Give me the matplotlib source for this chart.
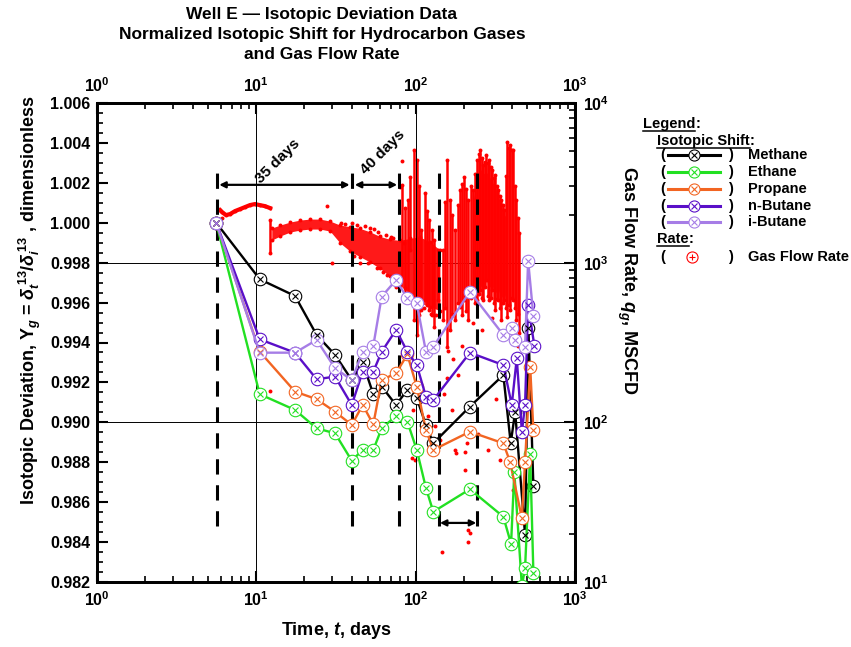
import matplotlib
matplotlib.use('Agg')
import matplotlib.pyplot as plt
import numpy as np
from matplotlib.lines import Line2D
from matplotlib.ticker import FuncFormatter, FormatStrFormatter, MultipleLocator, LogLocator, NullFormatter

# ---- isotopic shift data (time in days, normalized ratio) ----
t_common = [5.6, 10.5, 17.5, 23.9, 31.2, 39.7, 46.5, 54.2, 61.2, 75.3, 88.7, 101.6, 116, 129, 219, 355]

methane_y = [1.0000, 0.99717, 0.99633, 0.99438, 0.99338, 0.99212, 0.99300, 0.99141, 0.99179, 0.99087,
             0.99163, 0.99121, 0.98987, 0.98895, 0.99079, 0.99237]
methane_tail_t = [395, 421, 486, 510, 548]
methane_tail_y = [0.98895, 0.99053, 0.98436, 0.99471, 0.98681]

ethane_y = [1.0000, 0.99141, 0.99062, 0.98970, 0.98945, 0.98808, 0.98862, 0.98862, 0.98970, 0.99032,
            0.99003, 0.98862, 0.98671, 0.98552, 0.98665, 0.98527]
ethane_tail_t = [397, 416, 464, 486, 523, 548]
ethane_tail_y = [0.98391, 0.98750, 0.98180, 0.98270, 0.98840, 0.98247]

propane_y = [1.0000, 0.99354, 0.99154, 0.99116, 0.99053, 0.98987, 0.99087, 0.98990, 0.99212, 0.99246,
             0.99340, 0.99179, 0.98962, 0.98862, 0.98953, 0.98895]
propane_tail_t = [391, 464, 486, 523, 548]
propane_tail_y = [0.98803, 0.98520, 0.98803, 0.99279, 0.98962]

nbutane_y = [1.0000, 0.99416, 0.99349, 0.99216, 0.99229, 0.99087, 0.99254, 0.99254, 0.99354, 0.99463,
             0.99354, 0.99287, 0.99129, 0.99112, 0.99349, 0.99287]
nbutane_tail_t = [401, 431, 464, 486, 508, 556]
nbutane_tail_y = [0.99087, 0.99321, 0.98953, 0.99087, 0.99588, 0.99383]

ibutane_y = [1.0000, 0.99349, 0.99349, 0.99413, 0.99271, 0.99212, 0.99354, 0.99383, 0.99630, 0.99713,
             0.99622, 0.99597, 0.99354, 0.99379, 0.99655, 0.99438]
ibutane_tail_t = [401, 421, 486, 508, 548]
ibutane_tail_y = [0.99471, 0.99413, 0.99379, 0.99810, 0.99533]

series_names = ['Methane', 'Ethane', 'Propane', 'n-Butane', 'i-Butane']
series_colors = ['#000000', '#22e022', '#f26522', '#5a0fc8', '#a67de6']

# ---- gas flow rate data (MSCFD) ----
segA_t = [5.92, 6.09, 6.45, 6.84, 7.35, 7.90, 8.49, 9.12, 9.80, 10.5, 11.3, 12.2]
segA_q = [2135, 2073, 1987, 2015, 2104, 2165, 2229, 2294, 2328, 2294, 2261, 2197]

band_t = [12.5, 14.1, 16.3, 18.8, 21.7, 25.1, 29.0, 33.5, 38.7, 44.7, 51.6, 59.7, 69.0, 79.7, 92.1, 106, 123, 142]
band_hi = [1647, 1720, 1796, 1848, 1875, 1875, 1822, 1720, 1680, 1640, 1560, 1460, 1400, 1380, 1420, 1450, 1350, 1200]
band_lo = [1385, 1468, 1555, 1600, 1623, 1623, 1577, 1330, 1180, 1090, 1010, 920, 820, 720, 640, 560, 530, 500]

dense_t = [229, 242, 254, 265, 277, 289, 302, 315, 329, 344, 359, 375]
dense_hi = [2400, 3300, 3900, 3600, 3700, 3500, 3200, 3000, 2600, 2300, 2000, 1900]
dense_lo = [760, 700, 720, 680, 780, 700, 720, 640, 680, 600, 640, 560]

spike_t = [12.2, 82.1, 86, 89.6, 92.2, 97.7, 102, 105, 108.1, 114.6, 118, 121.4, 126, 130.5, 138.2, 148.6,
           153, 157.4, 164.4, 170, 176.7, 184, 190, 196, 201.3, 207, 213.3, 221, 229.3, 236, 242.9, 248,
           253.7, 259, 264.9, 271, 276.7, 283, 288.9, 295, 301.7, 308, 315.1, 322, 329.1, 336, 343.7,
           351, 358.9, 367, 374.9, 383, 391.4, 400, 408.8, 418, 426.9, 436, 445.8]
spike_lo = [1148, 778, 650, 583, 1199, 437, 352, 470, 505, 583, 540, 505, 470, 395, 583, 437,
            520, 296, 378, 480, 437, 560, 527, 470, 583, 500, 437, 600, 674, 560, 583, 640,
            674, 600, 583, 700, 778, 620, 583, 600, 674, 560, 505, 590, 583, 520, 437,
            560, 583, 520, 456, 540, 505, 600, 583, 520, 437, 480, 362]
spike_hi = [1848, 3061, 2200, 2466, 3436, 5070, 4390, 3000, 1600, 2728, 2100, 1848, 1600, 1385, 1199, 1199,
            2400, 4390, 2466, 2000, 1600, 2300, 2848, 3100, 3436, 2900, 2466, 3000, 2848, 3600, 4390, 4800,
            5070, 4500, 4085, 4300, 4718, 4200, 4390, 4000, 3800, 3400, 3536, 3000, 2848, 2600, 2466,
            2300, 2135, 3500, 5689, 5200, 5450, 5100, 5070, 3000, 2466, 1900, 1532]

stray_t = [6.09, 27.8, 82.1, 79.7, 12.2, 29.9, 94.5, 95.9, 106, 99.1, 142, 145.5, 180, 204, 214, 214,
           339, 410, 284, 157, 184, 209, 204, 219, 177, 36, 48, 58, 70, 45, 62, 75, 88,
           34, 40, 43, 52, 55, 65, 72, 84, 41, 50, 57, 66, 78, 86, 98, 112, 125, 135,
           160, 172, 195, 230, 260, 300, 380, 440, 120, 133, 150, 168, 245, 320]
stray_q = [1903, 2261, 4346, 2970, 158, 994, 59.8, 119.4, 64.2, 58.1, 77.5, 15.5, 64.2, 65.5, 21.2, 17.9,
           58.1, 37.7, 67, 189, 198, 74.2, 50, 20.3, 67, 1750, 1700, 1560, 1450, 1000, 880, 700, 600,
           1780, 1760, 1720, 1650, 1620, 1500, 1420, 1330, 1100, 1000, 930, 840, 740, 690, 560, 520, 480, 470,
           280, 250, 300, 420, 380, 450, 400, 300, 110, 95, 150, 120, 85, 140]

# ---- annotations ----
dash_t = [5.67, 39.9, 78.7, 140, 243]
dash_y = [0.9848, 1.0028]


def main():
    plt.close('all')
    plt.rcParams['font.family'] = ['Liberation Sans', 'DejaVu Sans']
    plt.rcParams['font.weight'] = 'bold'
    plt.rcParams['axes.labelweight'] = 'bold'
    plt.rcParams['mathtext.fontset'] = 'custom'
    plt.rcParams['mathtext.rm'] = 'Liberation Sans'
    plt.rcParams['mathtext.it'] = 'Liberation Sans:italic:bold'
    plt.rcParams['mathtext.bf'] = 'Liberation Sans:bold'

    W, H = 851, 647
    fig = plt.figure(figsize=(W / 100, H / 100), dpi=100)
    ax = fig.add_axes([97 / W, 1 - 582 / H, 478 / W, 479 / H])
    ax2 = ax.twinx()
    ax.set_zorder(ax2.get_zorder() + 1)
    ax.patch.set_visible(False)

    # gas flow rate on the right axis
    red = '#ff0000'
    ax2.set_yscale('log')
    ax2.fill_between(band_t, band_lo, band_hi, color=red, lw=0, alpha=0.9)
    ax2.fill_between(dense_t, dense_lo, dense_hi, color=red, lw=0, alpha=0.75)
    ax2.vlines(spike_t, spike_lo, spike_hi, color=red, lw=1.8)
    ax2.plot(segA_t, segA_q, color=red, lw=3)
    ax2.scatter(segA_t + band_t + band_t, segA_q + band_hi + band_lo, s=8, color=red, lw=0)
    ax2.scatter(spike_t + spike_t, spike_lo + spike_hi, s=8, color=red, lw=0)
    ax2.scatter(stray_t, stray_q, s=8, color=red, lw=0)
    ax2.set_ylim(10, 1e4)

    # isotopic series
    ys = [methane_y, ethane_y, propane_y, nbutane_y, ibutane_y]
    tails_t = [methane_tail_t, ethane_tail_t, propane_tail_t, nbutane_tail_t, ibutane_tail_t]
    tails_y = [methane_tail_y, ethane_tail_y, propane_tail_y, nbutane_tail_y, ibutane_tail_y]
    for y, tt, ty, c in zip(ys, tails_t, tails_y, series_colors):
        t = t_common + tt
        yy = y + ty
        ax.plot(t, yy, '-', color=c, lw=1.7, marker='o', ms=9, mfc='white', mec=c, mew=0.8, zorder=3)
        ax.plot(t, yy, 'x', color=c, ms=5, mew=0.8, ls='none', zorder=4)

    # dashed markers and arrows
    for td in dash_t:
        ax.plot([td, td], dash_y, color='k', lw=2.2, ls=(0, (5, 3.5)), zorder=2)
    arr = dict(arrowstyle='<|-|>', color='k', lw=1.6, mutation_scale=9, shrinkA=0, shrinkB=0)
    ax.annotate('', xy=(5.85, 1.0019), xytext=(38.5, 1.0019), arrowprops=arr)
    ax.annotate('', xy=(41.5, 1.0019), xytext=(76.5, 1.0019), arrowprops=arr)
    ax.annotate('', xy=(142, 0.98496), xytext=(240, 0.98496), arrowprops=arr)
    ax.text(13.7, 1.0031, '35 days', rotation=45, ha='center', va='center', fontsize=11)
    ax.text(62.4, 1.00355, '40 days', rotation=45, ha='center', va='center', fontsize=11)

    # axes formatting
    ax.set_xscale('log')
    ax.set_xlim(1, 1000)
    ax.set_ylim(0.982, 1.006)
    ax.yaxis.set_major_locator(MultipleLocator(0.002))
    ax.yaxis.set_minor_locator(MultipleLocator(0.0005))
    ax.yaxis.set_major_formatter(FormatStrFormatter('%.3f'))
    ax.xaxis.set_major_locator(LogLocator(base=10, numticks=10))
    ax.xaxis.set_minor_locator(LogLocator(base=10, subs=np.arange(2, 10), numticks=10))
    ax.xaxis.set_major_formatter(FuncFormatter(lambda v, p: '10$^{%d}$' % round(np.log10(v))))
    ax.xaxis.set_minor_formatter(NullFormatter())
    ax2.yaxis.set_major_formatter(FuncFormatter(lambda v, p: '10$^{%d}$' % round(np.log10(v))))
    ax2.yaxis.set_minor_formatter(NullFormatter())
    ax2.yaxis.set_minor_locator(LogLocator(base=10, subs=np.arange(2, 10), numticks=10))

    ax.tick_params(axis='x', which='both', direction='in', top=True, labeltop=True, labelsize=11.5, pad=6)
    ax.tick_params(axis='y', which='both', direction='in', right=False, labelsize=11.5, pad=5)
    ax2.tick_params(axis='y', which='both', direction='in', labelsize=11.5, pad=6)
    for a in (ax, ax2):
        a.tick_params(which='major', length=8, width=1.5)
        a.tick_params(which='minor', length=4, width=1.2)
        for s in a.spines.values():
            s.set_linewidth(2)

    ax.grid(axis='x', which='major', color='k', lw=0.7)
    ax2.set_axisbelow(True)
    ax2.grid(axis='y', which='major', color='k', lw=0.7)

    ax.set_xlabel('Time, $t$, days', fontsize=13, fontweight='bold', labelpad=8)
    fig.text(30 / W, 1 - 300 / H, 'Isotopic Deviation, Y$_g$ = $\\delta_t^{\\,13}/\\delta_i^{\\,13}$ , dimensionless',
             rotation=90, ha='center', va='center', fontsize=13)
    fig.text(627 / W, 1 - 280 / H, 'Gas Flow Rate, $q_g$, MSCFD',
             rotation=270, ha='center', va='center', fontsize=13)

    fig.text(322 / W, 1 - 7 / H,
             'Well E \u2014 Isotopic Deviation Data\nNormalized Isotopic Shift for Hydrocarbon Gases\nand Gas Flow Rate',
             ha='center', va='top', fontsize=12.5, linespacing=1.4)

    # custom legend block
    fs = 10.5
    renderer = fig.canvas.get_renderer()
    inv = fig.transFigure.inverted()

    def underlined(px, py, word):
        t = fig.text(px / W, 1 - py / H, word, fontsize=fs, va='baseline')
        bb = t.get_window_extent(renderer=renderer)
        (x0, _), (x1, _) = inv.transform([(bb.x0, bb.y0), (bb.x1, bb.y0)])
        yl = 1 - (py + 2.5) / H
        fig.add_artist(Line2D([x0, x1], [yl, yl], color='k', lw=1.1, transform=fig.transFigure))
        fig.text(x1, 1 - py / H, ':', fontsize=fs, va='baseline')

    underlined(643, 128, 'Legend')
    underlined(657, 145, 'Isotopic Shift')
    row_y = [155, 172, 189, 206, 222]
    for name, c, py in zip(series_names, series_colors, row_y):
        yf = 1 - py / H
        fig.text(660 / W, yf, '(', fontsize=fs, va='center')
        fig.text(728 / W, yf, ')', fontsize=fs, va='center')
        fig.add_artist(Line2D([668 / W, 720 / W], [yf, yf], color=c, lw=2.2, transform=fig.transFigure))
        fig.add_artist(Line2D([694 / W], [yf], color=c, marker='o', ms=8, mfc='white', mec=c, mew=0.8,
                              transform=fig.transFigure))
        fig.add_artist(Line2D([694 / W], [yf], color=c, marker='x', ms=4.5, mew=0.8, ls='none',
                              transform=fig.transFigure))
        fig.text(748 / W, yf, name, fontsize=fs, va='center')
    underlined(657, 243, 'Rate')
    yf = 1 - 257 / H
    fig.text(660 / W, yf, '(', fontsize=fs, va='center')
    fig.text(728 / W, yf, ')', fontsize=fs, va='center')
    fig.add_artist(Line2D([692 / W], [yf], marker='o', ms=8, mfc='none', mec=red, mew=0.8, ls='none',
                          transform=fig.transFigure))
    fig.add_artist(Line2D([692 / W], [yf], marker='+', ms=5, color=red, mew=0.8, ls='none',
                          transform=fig.transFigure))
    fig.text(748 / W, yf, 'Gas Flow Rate', fontsize=fs, va='center')

    fig.savefig('out.png', dpi=100)


if __name__ == '__main__':
    main()
